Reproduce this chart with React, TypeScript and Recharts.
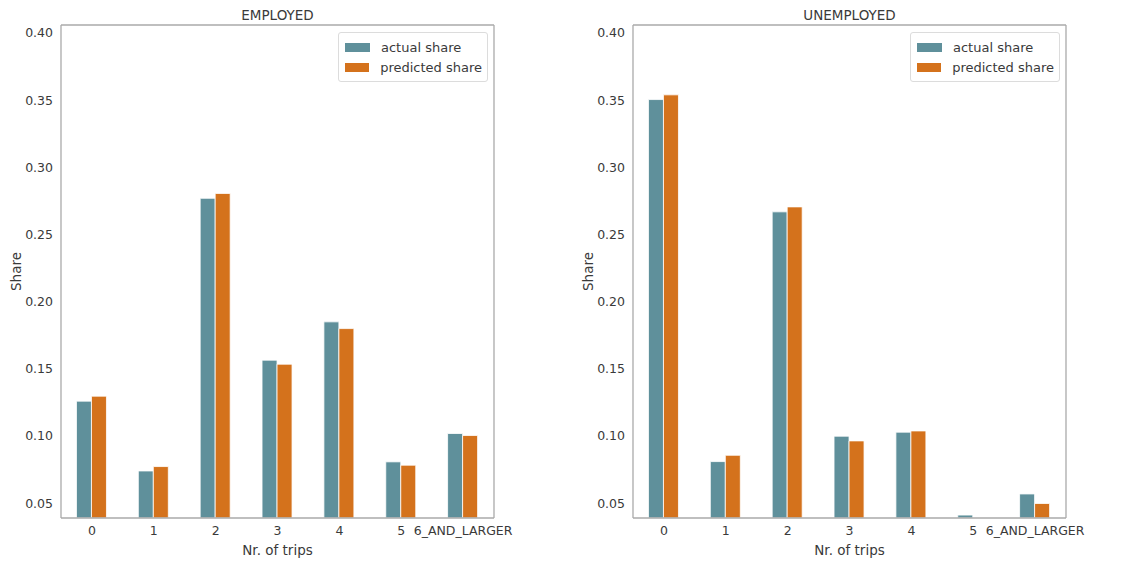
import { BarChart, Bar, XAxis, YAxis, Legend, Label } from "recharts";

// categories on the x axis
const tripCategories = ["0", "1", "2", "3", "4", "5", "6_AND_LARGER"];

// shares
const employedActual = [0.126, 0.074, 0.277, 0.1565, 0.185, 0.0808, 0.1019];
const employedPredicted = [0.1297, 0.0773, 0.2806, 0.1535, 0.18, 0.0783, 0.1004];
const unemployedActual = [0.3505, 0.081, 0.2669, 0.0999, 0.1029, 0.0412, 0.0569];
const unemployedPredicted = [0.354, 0.0857, 0.2706, 0.0964, 0.1038, 0.037, 0.0498];

const shareTicks = [0.05, 0.1, 0.15, 0.2, 0.25, 0.3, 0.35, 0.4];

const ACTUAL_COLOR = "#5f909b";
const PREDICTED_COLOR = "#d4721c";
const FRAME_COLOR = "#aaaaaa";
const TEXT_COLOR = "#3a3a3a";
const FONT = '"DejaVu Sans", sans-serif';

type Row = { trips: string; actual: number; predicted: number };

function buildRows(actual: number[], predicted: number[]): Row[] {
  return tripCategories.map((trips, i) => ({
    trips,
    actual: actual[i],
    predicted: predicted[i],
  }));
}

function ShareLegend({ payload }: any) {
  return (
    <div
      style={{
        border: "1px solid #dcdcdc",
        borderRadius: 3,
        background: "#fff",
        padding: "4px 5px",
        boxSizing: "border-box",
        width: 150,
        fontFamily: FONT,
        fontSize: 13,
        color: TEXT_COLOR,
        whiteSpace: "nowrap",
        textAlign: "left",
      }}
    >
      {(payload || []).map((p: any) => (
        <div
          key={p.value}
          style={{ display: "flex", alignItems: "center", height: 20 }}
        >
          <span
            style={{
              display: "inline-block",
              width: 25,
              height: 9,
              background: p.color,
              marginLeft: 1,
              marginRight: 11,
            }}
          />
          <span>{p.value}</span>
        </div>
      ))}
    </div>
  );
}

function SharePanel({ title, data }: { title: string; data: Row[] }) {
  const tick = { fill: TEXT_COLOR, fontSize: 12.5, fontFamily: FONT };
  const frame = { stroke: FRAME_COLOR, strokeWidth: 1.3 };
  return (
    <BarChart
      width={570}
      height={561}
      data={data}
      margin={{ top: 24, right: 75, bottom: 0, left: 0 }}
      barCategoryGap="25%"
      barGap={0}
    >
      <XAxis
        dataKey="trips"
        tick={tick}
        tickLine={false}
        axisLine={frame}
        interval={0}
        height={43}
      >
        <Label
          value="Nr. of trips"
          position="insideBottom"
          offset={6}
          style={{ fill: TEXT_COLOR, fontSize: 13.5, fontFamily: FONT }}
        />
      </XAxis>
      <XAxis
        xAxisId="top"
        dataKey="trips"
        orientation="top"
        height={1}
        tick={false}
        tickLine={false}
        axisLine={frame}
      >
        <Label
          value={title}
          position="top"
          offset={4}
          style={{ fill: TEXT_COLOR, fontSize: 13.5, fontFamily: FONT }}
        />
      </XAxis>
      <YAxis
        type="number"
        domain={[0.039, 0.406]}
        ticks={shareTicks}
        allowDataOverflow
        tickFormatter={(v: number) => v.toFixed(2)}
        tick={tick}
        tickLine={false}
        axisLine={frame}
        width={61}
      >
        <Label
          value="Share"
          angle={-90}
          position="insideLeft"
          offset={16}
          style={{
            fill: TEXT_COLOR,
            fontSize: 13.5,
            fontFamily: FONT,
            textAnchor: "middle",
          }}
        />
      </YAxis>
      <YAxis
        yAxisId="right"
        orientation="right"
        type="number"
        domain={[0.039, 0.406]}
        width={1}
        tick={false}
        tickLine={false}
        axisLine={frame}
      />
      <Legend
        layout="horizontal"
        verticalAlign="middle"
        align="center"
        wrapperStyle={{ left: 338, top: 32, width: 150 }}
        content={<ShareLegend />}
      />
      <Bar
        dataKey="actual"
        name="actual share"
        fill={ACTUAL_COLOR}
        stroke="#ffffff"
        strokeWidth={0.8}
        isAnimationActive={false}
      />
      <Bar
        dataKey="predicted"
        name="predicted share"
        fill={PREDICTED_COLOR}
        stroke="#ffffff"
        strokeWidth={0.8}
        isAnimationActive={false}
      />
    </BarChart>
  );
}

export default function App() {
  return (
    <div
      style={{
        position: "absolute",
        left: 0,
        top: 0,
        width: 1141,
        height: 561,
        background: "#ffffff",
      }}
    >
      <div style={{ position: "absolute", left: 0, top: 0 }}>
        <SharePanel
          title="EMPLOYED"
          data={buildRows(employedActual, employedPredicted)}
        />
      </div>
      <div style={{ position: "absolute", left: 572, top: 0 }}>
        <SharePanel
          title="UNEMPLOYED"
          data={buildRows(unemployedActual, unemployedPredicted)}
        />
      </div>
    </div>
  );
}
